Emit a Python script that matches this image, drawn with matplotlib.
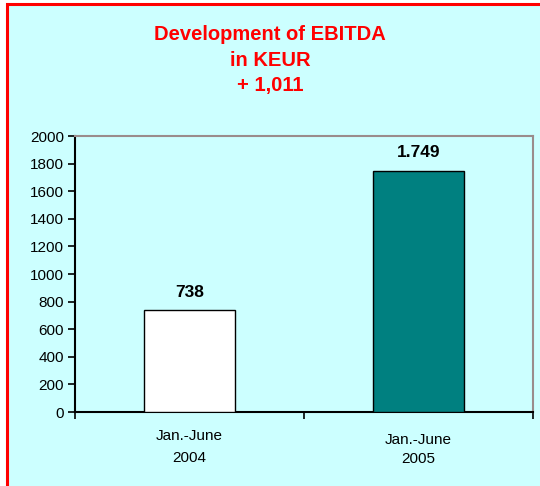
import matplotlib.pyplot as plt
from matplotlib.patches import Rectangle

# Data
periods = ["Jan.-June\n2004", "Jan.-June\n2005"]
ebitda = [738, 1749]
value_labels = ["738", "1.749"]
bar_colors = ["#FFFFFF", "#008080"]
title_lines = ["Development of EBITDA", "in KEUR", "+ 1,011"]

plt.rcParams["font.family"] = ["Liberation Sans", "DejaVu Sans"]

W, H = 540, 486
fig = plt.figure(figsize=(W / 100, H / 100), dpi=100)
fig.patch.set_facecolor("white")

# cyan background with red frame (cut off at right and bottom)
fig.patches.append(Rectangle((7 / W, -0.1), 1.2, 1 - 4.5 / H + 0.1,
                             transform=fig.transFigure, facecolor="#CCFFFF",
                             edgecolor="#FF0000", linewidth=2.2, zorder=-5))

ax = fig.add_axes([75 / W, 1 - 412 / H, (533 - 75) / W, (412 - 136) / H])
ax.set_facecolor("none")

x = list(range(len(ebitda)))
ax.bar(x, ebitda, width=0.4, color=bar_colors, edgecolor="black", linewidth=1.0, zorder=3)

for xi, v, lab in zip(x, ebitda, value_labels):
    ax.annotate(lab, (xi, v), xytext=(0, 18), textcoords="offset pixels",
                ha="center", va="center", fontsize=12.5, fontweight="bold")

ax.set_xlim(-0.5, 1.5)
ax.set_ylim(0, 2000)
ax.set_yticks(range(0, 2001, 200))
ax.tick_params(axis="y", labelsize=11, length=5, width=1.2, direction="out", pad=3)
ax.set_xticks([-0.5, 0.5, 1.5])
ax.set_xticklabels([])
ax.tick_params(axis="x", length=5, width=1.2, direction="out")

for s in ["left", "bottom"]:
    ax.spines[s].set_color("black")
    ax.spines[s].set_linewidth(1.5)
for s in ["top", "right"]:
    ax.spines[s].set_color("#9A8C8C")
    ax.spines[s].set_linewidth(1.5)

# category labels
label_offsets = [(-24, -46), (-28, -47)]
for xi, lab, (y1, y2) in zip(x, periods, label_offsets):
    l1, l2 = lab.split("\n")
    ax.annotate(l1, (xi, 0), xytext=(0, y1), textcoords="offset pixels",
                ha="center", va="center", fontsize=11)
    ax.annotate(l2, (xi, 0), xytext=(0, y2), textcoords="offset pixels",
                ha="center", va="center", fontsize=11)

for i, line in enumerate(title_lines):
    fig.text(270 / W, 1 - (35 + 25 * i) / H, line, ha="center", va="center",
             fontsize=14.5, fontweight="bold", color="#FF0000")

fig.savefig("out.png", dpi=100)
